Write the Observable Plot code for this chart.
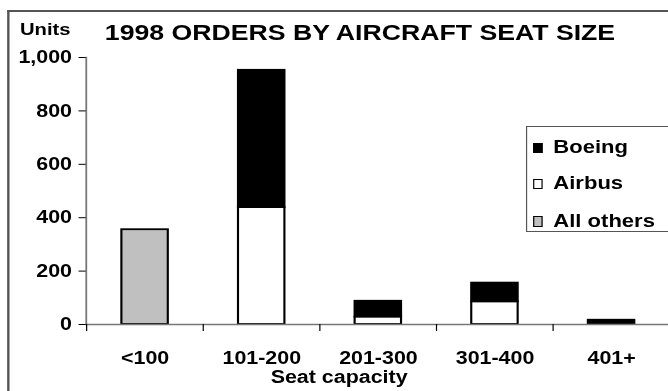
<!DOCTYPE html>
<html><head><meta charset="utf-8">
<script src="https://cdn.jsdelivr.net/npm/d3@7"></script>
<script src="https://cdn.jsdelivr.net/npm/@observablehq/plot@0.6"></script>
<style>
html,body{margin:0;padding:0;background:#fff;overflow:hidden;}
body{width:668px;height:391px;}
#clip{position:absolute;left:0;top:0;width:668px;height:391px;overflow:hidden;}
#wrap{position:relative;width:564px;height:391px;transform:scaleX(1.19);transform-origin:0 0;font-family:"Liberation Sans",Arial,sans-serif;font-weight:bold;color:#000;}
#wrap svg{position:absolute;left:0;top:0;}
.t{position:absolute;white-space:nowrap;line-height:1;}
#hline{position:absolute;left:5.9px;top:10px;width:600px;height:2px;background:#555;}
#vline{position:absolute;left:5.9px;top:10px;width:1.7px;height:400px;background:#555;}
#legend{position:absolute;left:442px;top:125.7px;width:140px;height:106px;box-sizing:border-box;border:1.5px solid #555;background:#fff;}
.sw{position:absolute;width:8.4px;height:10.7px;box-sizing:border-box;border:1.4px solid #000;}
</style></head><body><div id="clip"><div id="wrap"><div id="hline"></div><div id="vline"></div></div></div>
<script>
const categories = ["<100", "101-200", "201-300", "301-400", "401+"];
const series = ["All others", "Airbus", "Boeing"];
const allOthers = [355, 0, 0, 0, 0];
const airbus = [0, 438, 28, 85, 0];
const boeing = [0, 514, 59, 70, 16];
const yTicks = [0, 200, 400, 600, 800, 1000];
const colors = ["#c0c0c0", "#ffffff", "#000000"];
const legendOrder = ["Boeing", "Airbus", "All others"];
const titleText = "1998 ORDERS BY AIRCRAFT SEAT SIZE";
const yLabel = "Units";
const xLabel = "Seat capacity";

const values = [allOthers, airbus, boeing];
const rows = [];
series.forEach((s, i) => categories.forEach((c, j) => {
  if (values[i][j] > 0) rows.push({category: c, series: s, units: values[i][j]});
}));

const W = 564, H = 391, mL = 72, mR = 0, mT = 57, mB = 67;
const step = (W - mL - mR) / categories.length;

const chart = Plot.plot({
  width: W, height: H, marginLeft: mL, marginRight: mR, marginTop: mT, marginBottom: mB,
  style: {fontFamily: "Liberation Sans, Arial, sans-serif", fontWeight: "bold", fontSize: "18px", color: "#000", background: "transparent", overflow: "visible"},
  x: {domain: categories, paddingInner: 0.6, paddingOuter: 0.3, axis: null},
  y: {domain: [0, 1000], axis: null},
  color: {domain: series, range: colors},
  marks: [
    Plot.frame({anchor: "left", stroke: "#777", strokeWidth: 1.5}),
    Plot.barY(rows, Plot.stackY({x: "category", y: "units", fill: "series", stroke: "#000", strokeWidth: 1.8})),
    Plot.ruleY([0], {stroke: "#777", strokeWidth: 1.5}),
    Plot.axisY({ticks: yTicks, tickFormat: d3.format(","), tickSize: 6, tickPadding: 6, stroke: "#000", fontSize: 18, label: null}),
    Plot.axisX({tickSize: 0, tickPadding: 27, fontSize: 18, label: null}),
    Plot.axisX({tickSize: 7, tickFormat: () => "", dx: -step / 2, stroke: "#000", label: null})
  ]
});

const wrap = document.getElementById("wrap");
wrap.appendChild(chart);

function addText(txt, css) {
  const d = document.createElement("div");
  d.className = "t";
  d.textContent = txt;
  Object.assign(d.style, css);
  wrap.appendChild(d);
  return d;
}
addText(titleText, {left: "0px", width: "605px", textAlign: "center", top: "22px", fontSize: "22.4px"});
addText(yLabel, {left: "16.8px", top: "20.6px", fontSize: "17px"});
addText(xLabel, {left: "0px", width: "570px", textAlign: "center", top: "370px", fontSize: "18px", lineHeight: "0.8"});

const legend = document.createElement("div");
legend.id = "legend";
wrap.appendChild(legend);
const rowTops = [138.8, 174.8, 212.3];
legendOrder.forEach((name, i) => {
  const sw = document.createElement("div");
  sw.className = "sw";
  sw.style.background = colors[series.indexOf(name)];
  sw.style.left = (448 - 442 - 1.5) + "px";
  sw.style.top = (rowTops[i] + 15.2 - 10.7 - 125.7 - 1.5) + "px";
  legend.appendChild(sw);
  const t = document.createElement("div");
  t.className = "t";
  t.textContent = name;
  t.style.left = (465.5 - 442 - 1.5) + "px";
  t.style.top = (rowTops[i] - 125.7 - 1.5) + "px";
  t.style.fontSize = "18.5px";
  legend.appendChild(t);
});
</script></body></html>
